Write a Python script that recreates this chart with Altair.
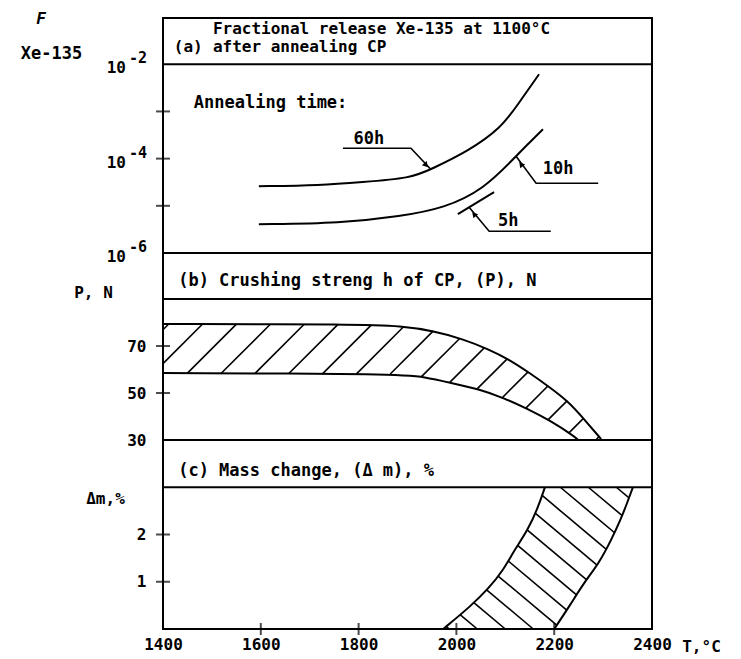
import altair as alt
import numpy as np
import pandas as pd

FONT = "DejaVu Sans Mono"
W = 489
H_A, H_B, H_C = 235, 187, 189
T_MIN, T_MAX = 1400, 2400

# ---------------- data ----------------
# (a) fractional release of Xe-135, stored as log10(F)
t_60h = [1596, 1723, 1805, 1907, 1948, 2024, 2091, 2126, 2169]
logf_60h = [-4.585, -4.564, -4.500, -4.415, -4.225, -3.843, -3.356, -2.847, -2.212]
t_10h = [1596, 1764, 1887, 1975, 2056, 2118, 2146, 2177]
logf_10h = [-5.390, -5.369, -5.220, -5.051, -4.648, -3.992, -3.695, -3.377]
t_5h = [2003, 2077]
logf_5h = [-5.178, -4.712]

# (b) crushing strength band, N
tb_up = [1400, 1800, 1887, 1954, 2013, 2065, 2106, 2153, 2187, 2228, 2261, 2296]
pb_up = [79.4, 79.2, 78.5, 76.4, 73.0, 68.7, 64.5, 58.1, 53.0, 46.6, 38.9, 30.4]
tb_lo = [1400, 1887, 1934, 1989, 2046, 2097, 2146, 2193, 2240, 2249]
pb_lo = [58.5, 58.1, 56.8, 54.3, 51.7, 47.9, 43.2, 38.1, 31.7, 30.0]

# (c) mass change band, %
tc_l = [1973, 2030, 2065, 2095, 2118, 2146, 2167, 2181]
mc_l = [0.0, 0.49, 0.85, 1.23, 1.66, 2.09, 2.57, 3.0]
tc_r = [2200, 2234, 2261, 2292, 2316, 2337, 2351, 2361]
mc_r = [0.0, 0.53, 0.98, 1.40, 1.87, 2.34, 2.72, 3.0]

# axis values
x_ticks = [1400, 1600, 1800, 2000, 2200, 2400]
x_inner_ticks = [1600, 1800, 2000, 2200]
a_tick_exp = [-3, -4, -5]
a_label_exp = [-2, -4, -6]
b_ticks = [30, 50, 70]
b_inner_ticks = [50, 70]
c_ticks = [1, 2]

# annotation texts (panel a)
ann_text = ["Annealing time:", "60h", "10h", "5h"]
ann_t = [1463, 1821, 2208, 2106]
ann_logf = [-2.826, -3.589, -4.225, -5.326]
ann_align = ["left", "center", "center", "center"]

lead_60h_t = [1768, 1907, 1948]
lead_60h_f = [-3.78, -3.78, -4.23]
lead_10h_t = [2122, 2163, 2290]
lead_10h_f = [-3.95, -4.521, -4.521]
lead_5h_t = [2026, 2067, 2193]
lead_5h_f = [-5.03, -5.538, -5.538]
arrow_t = [1938, 2132, 2036]
arrow_f = [-4.14, -4.119, -5.178]
arrow_angle = [139, 321, 319]

# ---------------- scales / helpers ----------------
B_TOP = 109.6
C_TOP = 4.0
xscale = alt.Scale(domain=[T_MIN, T_MAX], nice=False, zero=False)
ya_scale = alt.Scale(type="log", domain=[1e-6, 10 ** -1.02], nice=False)
yb_scale = alt.Scale(domain=[30, B_TOP], nice=False, zero=False)
yc_scale = alt.Scale(domain=[0, C_TOP], nice=False, zero=False)

lab = dict(labelFont=FONT, labelFontSize=16, labelFontWeight="bold", labelColor="black",
           titleFont=FONT, titleFontSize=16, titleFontWeight="bold", titleColor="black",
           ticks=False, tickSize=0, domain=False, grid=False, titleAngle=0,
           titleAlign="center", titleBaseline="middle")

ya_axis = alt.Axis(labels=False, values=[], title="Xe-135", titleX=-112, titleY=35, **{**lab, "titleFontSize": 17})
yb_axis = alt.Axis(values=b_ticks, title="P, N", titleX=-70, titleY=39, labelPadding=17, **lab)
yc_axis = alt.Axis(values=c_ticks, title="Δm,%", titleX=-58, titleY=58, labelPadding=17, **lab)
xc_axis = alt.Axis(values=x_ticks, format="d", title="T,°C", titleX=538, titleY=17, labelPadding=7,
                   labelFlush=False, labelOverlap=False, **lab)


def hatch(poly_t, poly_v, v0, ky, angle, spacing, phase=0.0):
    kx = W / (T_MAX - T_MIN)
    P = np.column_stack([(np.asarray(poly_t, float) - T_MIN) * kx,
                         (np.asarray(poly_v, float) - v0) * ky])
    a = np.radians(angle)
    d = np.array([np.cos(a), np.sin(a)])
    n = np.array([-np.sin(a), np.cos(a)])
    proj = P @ n
    rows = []
    c = np.floor(proj.min() / spacing) * spacing + phase
    while c <= proj.max():
        pts = []
        for i in range(len(P)):
            A, B = P[i], P[(i + 1) % len(P)]
            fa, fb = A @ n - c, B @ n - c
            if (fa < 0) != (fb < 0):
                s = fa / (fa - fb)
                pts.append(A + s * (B - A))
        pts.sort(key=lambda p: p @ d)
        for j in range(0, len(pts) - 1, 2):
            p, q = pts[j], pts[j + 1]
            rows.append(dict(t=p[0] / kx + T_MIN, v=p[1] / ky + v0,
                             t2=q[0] / kx + T_MIN, v2=q[1] / ky + v0))
        c += spacing
    return pd.DataFrame(rows)


# ---------------- panel (a) ----------------
def XA(f="t"):
    return alt.X(f, type="quantitative", scale=xscale, axis=None)


def YA(f="v"):
    return alt.Y(f, type="quantitative", scale=ya_scale, axis=ya_axis)


curves_a = pd.concat([
    pd.DataFrame({"t": t_60h, "v": 10.0 ** np.array(logf_60h), "s": "60h"}),
    pd.DataFrame({"t": t_10h, "v": 10.0 ** np.array(logf_10h), "s": "10h"}),
    pd.DataFrame({"t": t_5h, "v": 10.0 ** np.array(logf_5h), "s": "5h"}),
])
leaders_a = pd.concat([
    pd.DataFrame({"t": lead_60h_t, "v": 10.0 ** np.array(lead_60h_f), "s": "60h", "o": [0, 1, 2]}),
    pd.DataFrame({"t": lead_10h_t, "v": 10.0 ** np.array(lead_10h_f), "s": "10h", "o": [0, 1, 2]}),
    pd.DataFrame({"t": lead_5h_t, "v": 10.0 ** np.array(lead_5h_f), "s": "5h", "o": [0, 1, 2]}),
])
arrows_a = pd.DataFrame({"t": arrow_t, "v": 10.0 ** np.array(arrow_f), "ang": arrow_angle})
ann_a = pd.DataFrame({"t": ann_t, "v": 10.0 ** np.array(ann_logf), "txt": ann_text, "al": ann_align})
ticks_a = pd.DataFrame({"t": T_MIN, "v": 10.0 ** np.array(a_tick_exp, float)})
labels_a = pd.DataFrame({"t": T_MIN, "v": 10.0 ** np.array(a_label_exp, float),
                         "ex": [str(e) for e in a_label_exp]})
band_a = pd.DataFrame({"v": [1e-2]})
title_a = pd.DataFrame({"t": [1422, 1502, 1502],
                        "v": [10 ** -1.64, 10 ** -1.258, 10 ** -1.64],
                        "txt": ["(a)", "Fractional release Xe-135 at 1100°C", "after annealing CP"]})

pa = alt.layer(
    alt.Chart(curves_a).mark_line(color="black", strokeWidth=2, interpolate="basis").encode(
        x=XA(), y=YA(), detail="s:N"),
    alt.Chart(leaders_a).mark_line(color="black", strokeWidth=1.6).encode(
        x=XA(), y=YA(), detail="s:N", order="o:Q"),
    alt.Chart(arrows_a).mark_point(shape="triangle-up", filled=True, color="black", size=40, opacity=1).encode(
        x=XA(), y=YA(), angle=alt.Angle("ang:Q", scale=None)),
    alt.Chart(ann_a[ann_a.al == "left"]).mark_text(font=FONT, fontSize=17, fontWeight="bold", align="left",
                                                  baseline="middle", color="black").encode(
        x=XA(), y=YA(), text="txt:N"),
    alt.Chart(ann_a[ann_a.al == "center"]).mark_text(font=FONT, fontSize=17, fontWeight="bold", align="center",
                                                    baseline="middle", color="black").encode(
        x=XA(), y=YA(), text="txt:N"),
    alt.Chart(title_a).mark_text(font=FONT, fontSize=16, fontWeight="bold", align="left",
                                 baseline="middle", color="black").encode(x=XA(), y=YA(), text="txt:N"),
    alt.Chart(band_a).mark_rule(color="black", strokeWidth=2).encode(y=YA()),
    alt.Chart(ticks_a).mark_tick(orient="horizontal", size=14, thickness=2, color="black").encode(x=XA(), y=YA()),
    alt.Chart(labels_a).mark_text(font=FONT, fontSize=16, fontWeight="bold", align="right", baseline="middle",
                                  dx=-37, dy=4, color="black").encode(x=XA(), y=YA(), text=alt.value("10")),
    alt.Chart(labels_a).mark_text(font=FONT, fontSize=15, fontWeight="bold", align="left", baseline="middle",
                                  dx=-34, dy=-6, color="black").encode(x=XA(), y=YA(), text="ex:N"),
    alt.Chart(pd.DataFrame({"txt": ["F"]})).mark_text(font=FONT, fontSize=16, fontWeight="bold",
                                                      fontStyle="italic", align="center", baseline="middle",
                                                      color="black").encode(
        x=alt.value(-122), y=alt.value(1), text="txt:N"),
).properties(width=W, height=H_A)


# ---------------- panel (b) ----------------
def XB(f="t"):
    return alt.X(f, type="quantitative", scale=xscale, axis=None)


def YB(f="v"):
    return alt.Y(f, type="quantitative", scale=yb_scale, axis=yb_axis)


ky_b = H_B / (B_TOP - 30)
poly_bt = tb_up + tb_lo[::-1]
poly_bv = pb_up + pb_lo[::-1]
hatch_b = hatch(poly_bt, poly_bv, 30, ky_b, 45, 24, phase=6)
bounds_b = pd.concat([
    pd.DataFrame({"t": tb_up, "v": pb_up, "s": "up"}),
    pd.DataFrame({"t": tb_lo, "v": pb_lo, "s": "lo"}),
])
band_b = pd.DataFrame({"v": [90]})
ticks_b = pd.DataFrame({"t": T_MIN, "v": b_inner_ticks})
title_b = pd.DataFrame({"t": [1431], "v": [97.7], "txt": ["(b) Crushing streng h of CP, (P), N"]})

pb = alt.layer(
    alt.Chart(bounds_b).mark_line(color="black", strokeWidth=2, interpolate="basis").encode(
        x=XB(), y=YB(), detail="s:N"),
    alt.Chart(hatch_b).mark_rule(color="black", strokeWidth=1.6).encode(
        x=XB(), y=YB(), x2="t2:Q", y2="v2:Q"),
    alt.Chart(band_b).mark_rule(color="black", strokeWidth=2).encode(y=YB()),
    alt.Chart(ticks_b).mark_tick(orient="horizontal", size=14, thickness=2, color="black").encode(x=XB(), y=YB()),
    alt.Chart(title_b).mark_text(font=FONT, fontSize=17, fontWeight="bold", align="left",
                                 baseline="middle", color="black").encode(x=XB(), y=YB(), text="txt:N"),
).properties(width=W, height=H_B)


# ---------------- panel (c) ----------------
def XC(f="t"):
    return alt.X(f, type="quantitative", scale=xscale, axis=xc_axis)


def YC(f="v"):
    return alt.Y(f, type="quantitative", scale=yc_scale, axis=yc_axis)


ky_c = H_C / C_TOP
poly_ct = tc_l + tc_r[::-1]
poly_cv = mc_l + mc_r[::-1]
hatch_c = hatch(poly_ct, poly_cv, 0, ky_c, -40, 18, phase=4)
bounds_c = pd.concat([
    pd.DataFrame({"t": tc_l, "v": mc_l, "s": "l", "o": range(len(tc_l))}),
    pd.DataFrame({"t": tc_r, "v": mc_r, "s": "r", "o": range(len(tc_r))}),
])
band_c = pd.DataFrame({"v": [3]})
ticks_cy = pd.DataFrame({"t": T_MIN, "v": c_ticks})
ticks_cx = pd.DataFrame({"t": x_inner_ticks, "v": 0})
title_c = pd.DataFrame({"t": [1431], "v": [3.344], "txt": ["(c) Mass change, (Δ m), %"]})

pc = alt.layer(
    alt.Chart(bounds_c).mark_line(color="black", strokeWidth=2, interpolate="basis").encode(
        x=XC(), y=YC(), detail="s:N", order="o:Q"),
    alt.Chart(hatch_c).mark_rule(color="black", strokeWidth=1.6).encode(
        x=XC(), y=YC(), x2="t2:Q", y2="v2:Q"),
    alt.Chart(band_c).mark_rule(color="black", strokeWidth=2).encode(y=YC()),
    alt.Chart(ticks_cy).mark_tick(orient="horizontal", size=14, thickness=2, color="black").encode(x=XC(), y=YC()),
    alt.Chart(ticks_cx).mark_tick(orient="vertical", size=12, thickness=2, color="black").encode(x=XC(), y=YC()),
    alt.Chart(title_c).mark_text(font=FONT, fontSize=17, fontWeight="bold", align="left",
                                 baseline="middle", color="black").encode(x=XC(), y=YC(), text="txt:N"),
).properties(width=W, height=H_C)

chart = alt.vconcat(pa, pb, pc, spacing=0, bounds="flush").properties(
    padding={"left": 11, "top": 2, "right": 5, "bottom": 5},
    background="white",
).configure_view(stroke="black", strokeWidth=2)

chart.save("out.html", embed_options={"renderer": "svg", "actions": False})
